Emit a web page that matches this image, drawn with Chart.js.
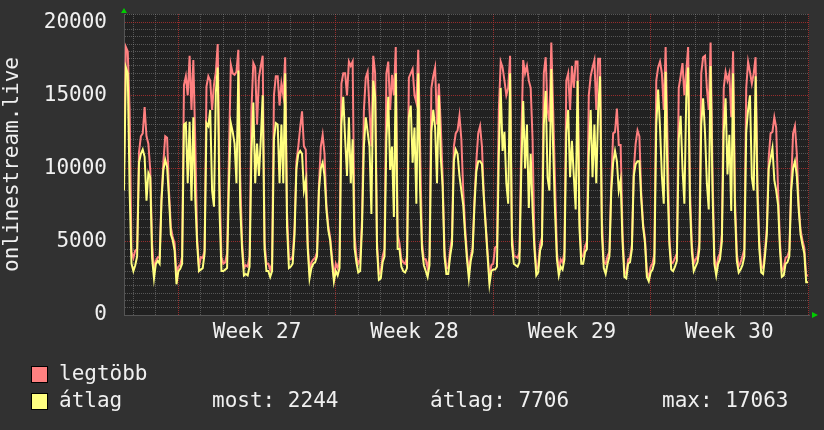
<!DOCTYPE html>
<html>
<head>
<meta charset="utf-8">
<script src="https://cdn.jsdelivr.net/npm/chart.js@4"></script>
<style>
  html, body { margin: 0; padding: 0; background: #313131; }
  #wrap { position: relative; width: 824px; height: 430px; }
  #chart { position: absolute; left: 0; top: 0; }
  .legend { position: absolute; font-family: "DejaVu Sans Mono", monospace; font-size: 21px; line-height: 21px; color: #f0f0f0; white-space: pre; }
  .box { position: absolute; width: 15px; height: 15px; border: 1px solid #000; }
</style>
</head>
<body>
<div id="wrap">
  <canvas id="chart" width="824" height="430"></canvas>
  <div class="box" style="left:31px; top:366px; background:#ff8080;"></div>
  <div class="legend" style="left:59px; top:363px;">legtöbb</div>
  <div class="box" style="left:31px; top:393px; background:#ffff80;"></div>
  <div class="legend" style="left:59px; top:390px;">átlag</div>
  <div class="legend" style="left:212px; top:390px;">most: 2244</div>
  <div class="legend" style="left:430px; top:390px;">átlag: 7706</div>
  <div class="legend" style="left:662px; top:390px;">max: 17063</div>
</div>
<script>
// ==============================
// Data: one value every 2 hours, one row per day (00..22h)
// hour 0 = Monday of week 27
// ==============================
const startHour = -72;   // Friday of week 26
const stepHours = 2;
const weekLabels = ["Week 27", "Week 28", "Week 29", "Week 30"];

// "átlag" (average)
const atlagWk26 = [
  3000, 2800, 2700, 3300, 12000, 14500, 13000, 8500, 16900, 16500, 8500, 3500,
  3000, 3400, 4000, 10400, 11000, 11300, 10800, 7800, 9700, 9400, 3900, 2500,
  3500, 3700, 3500, 7800, 9900, 10600, 10100, 8000, 5500, 5100, 4400, 2100
];
const atlagWk27 = [
  3000, 3150, 3500, 13000, 13100, 9000, 13200, 7800, 13500, 8000, 4900, 3000,
  3100, 3200, 4200, 13100, 12900, 14000, 8500, 7400, 15200, 16900, 7000, 3000,
  3000, 3100, 3200, 9000, 13100, 12500, 11700, 9000, 16700, 7500, 4500, 2700,
  2800, 2700, 3300, 11000, 14500, 9000, 11700, 9500, 12000, 15000, 4500, 3000,
  3000, 2600, 3000, 12000, 13100, 13000, 9000, 13000, 9000, 16500, 6000, 3200,
  3300, 3500, 5500, 10000, 11000, 11200, 11000, 8500, 9200, 4600, 2500, 3200,
  3500, 3600, 4000, 8500, 10000, 10400, 9500, 7200, 5800, 5100, 3600, 2300
];
const atlagWk28 = [
  3000, 2700, 3200, 13000, 14900, 12000, 9500, 13500, 9000, 12000, 4600, 3600,
  2900, 3000, 6000, 11500, 13500, 12500, 11500, 6900, 16000, 14900, 4500, 2400,
  2500, 3600, 4000, 12000, 14900, 9900, 11500, 6700, 16500, 4500, 4500, 3300,
  3000, 2900, 3200, 13500, 14300, 10400, 12800, 7600, 16500, 8500, 4500, 3400,
  3000, 2600, 3400, 12500, 14000, 12800, 9000, 15000, 10800, 8800, 4000, 2800,
  2800, 4000, 4800, 10500, 11300, 11000, 9500, 8500, 7500, 5500, 3800, 2500,
  3700, 4300, 7500, 9800, 10500, 10500, 10300, 8000, 6000, 4000, 2100, 3000
];
const atlagWk29 = [
  3100, 3100, 3300, 11000, 15500, 11200, 12500, 9000, 7600, 16500, 4800, 3500,
  3400, 3300, 3600, 10000, 14600, 10000, 13000, 7300, 11000, 7200, 4500, 2700,
  2900, 4400, 4800, 13000, 15300, 9400, 8500, 16800, 11300, 7000, 3800, 2700,
  3300, 3100, 3800, 12500, 14000, 9400, 11900, 9500, 7200, 16000, 6000, 3500,
  3500, 4300, 4500, 11000, 14000, 9400, 13000, 9000, 14000, 16300, 5500, 3200,
  2800, 3500, 4000, 8500, 10400, 11200, 10500, 8500, 9200, 5000, 2600, 2500,
  3500, 3600, 4500, 9500, 10300, 10500, 10500, 7900, 6000, 4900, 2600, 2300
];
const atlagWk30 = [
  2900, 3100, 3600, 13000, 15400, 12800, 9500, 7600, 16600, 9000, 4800, 3100,
  3000, 3300, 3700, 12000, 13600, 10000, 7600, 14800, 16900, 7500, 4300, 3000,
  3300, 3600, 4500, 13000, 14800, 12500, 9000, 7200, 17000, 8500, 3500, 2700,
  3500, 3800, 5000, 12500, 14800, 9600, 12300, 7100, 16500, 7100, 3700, 2900,
  3100, 3400, 4000, 12500, 14000, 15000, 9400, 8500, 16300, 8000, 4500, 2900,
  2800, 4000, 5500, 10000, 10700, 11400, 9200, 8500, 7500, 4500, 2600, 2700,
  3500, 3600, 4000, 8500, 10000, 10500, 9500, 7200, 5500, 4800, 4200, 2244,
  2244
];

// "legtöbb" (maximum)
const legtobbWk26 = [
  3500, 3200, 3100, 3900, 15000, 17000, 16000, 10000, 18300, 18000, 14000, 4300,
  3900, 4400, 4500, 11100, 12200, 12400, 14200, 12200, 11700, 9900, 4900, 3000,
  3700, 3950, 3900, 8000, 10400, 12200, 12100, 8500, 6000, 5300, 4900, 2800
];
const legtobbWk27 = [
  3300, 3400, 4000, 15700, 16300, 15000, 17700, 14000, 17400, 12000, 5300, 3300,
  3950, 3900, 4400, 15600, 16300, 16000, 14000, 15700, 16600, 18500, 9000, 3950,
  3500, 3600, 4200, 11000, 17100, 16500, 16400, 16600, 18100, 9500, 5000, 3200,
  3400, 3300, 4000, 14000, 17200, 16900, 13000, 16200, 17000, 17700, 5000, 3500,
  3500, 3100, 3500, 15000, 16300, 16300, 14300, 15800, 15000, 17600, 7000, 3800,
  3800, 4000, 6000, 10500, 11500, 12800, 13900, 11500, 11300, 5000, 3000, 3600,
  3800, 3900, 4300, 8800, 11500, 12300, 11000, 7500, 6100, 5300, 4000, 2600
];
const legtobbWk28 = [
  3500, 3200, 3800, 15800, 16500, 16500, 15000, 17300, 17000, 17300, 5500, 4000,
  3500, 3800, 6500, 14000, 16200, 16600, 14000, 11500, 17700, 16500, 5000, 2800,
  2900, 4000, 4500, 16500, 17300, 14000, 16400, 15000, 18300, 5500, 4900, 3800,
  3600, 3500, 4000, 16200, 16500, 16800, 15000, 14500, 18100, 11500, 5000, 3800,
  3800, 3200, 4000, 15500, 16300, 16900, 13000, 15800, 13000, 9500, 4500, 3200,
  3200, 4400, 5300, 11500, 12400, 12600, 13600, 12000, 8500, 6000, 4200, 2900,
  4000, 4600, 7900, 10500, 12400, 12900, 11500, 8200, 6200, 4300, 2500, 3400
];
const legtobbWk29 = [
  3500, 4600, 4700, 14000, 17300, 16900, 16000, 15000, 15500, 17700, 5500, 4000,
  4000, 3900, 4300, 12000, 17400, 16500, 17000, 16000, 15500, 12000, 5000, 3100,
  3300, 4800, 5300, 16500, 17600, 14000, 13200, 18600, 14000, 9000, 4300, 3100,
  3800, 3600, 4300, 16000, 16500, 14000, 17000, 15500, 17300, 17300, 7000, 4000,
  4000, 4700, 5000, 15000, 16300, 16900, 17400, 14000, 17500, 17500, 6500, 3600,
  3500, 4000, 4300, 9000, 12400, 12500, 14100, 11600, 11600, 5600, 3000, 2800,
  3800, 3900, 4800, 9900, 11700, 12600, 12200, 8300, 6200, 5200, 2900, 2600
];
const legtobbWk30 = [
  3300, 3500, 4200, 16000, 16900, 17300, 16500, 14000, 18300, 12000, 5300, 3500,
  3600, 3900, 4200, 15500, 16300, 17200, 15000, 16600, 18300, 8500, 4800, 3500,
  3800, 4000, 5000, 16500, 17600, 17700, 15500, 14000, 18600, 10000, 4000, 3100,
  3900, 4200, 5500, 15500, 16600, 16000, 16500, 13500, 18000, 8000, 4200, 3300,
  3600, 4000, 4500, 15500, 17300, 16600, 15800, 16500, 17600, 9000, 5000, 3300,
  3200, 4400, 6000, 10700, 12400, 12500, 13500, 12800, 8500, 5000, 3000, 3200,
  3900, 4000, 4400, 9000, 12400, 12900, 11000, 7500, 5800, 5100, 4600, 2700,
  2700
];

const atlag = [...atlagWk26, ...atlagWk27, ...atlagWk28, ...atlagWk29, ...atlagWk30];
const legtobb = [...legtobbWk26, ...legtobbWk27, ...legtobbWk28, ...legtobbWk29, ...legtobbWk30];

function toPoints(values) {
  return values.map((v, i) => ({ x: startHour + i * stepHours, y: v }));
}

// ==============================
// Small helpers for the rrdtool look
// ==============================
const GRID_MINOR = "rgba(150,150,150,0.45)";
const GRID_MAJOR = "rgba(190,50,50,0.75)";

const backgroundPlugin = {
  id: "background",
  beforeDraw(chart) {
    const { ctx, chartArea } = chart;
    ctx.save();
    ctx.fillStyle = "#313131";
    ctx.fillRect(0, 0, chart.width, chart.height);
    ctx.fillStyle = "#212121";
    ctx.fillRect(chartArea.left, chartArea.top, chartArea.right - chartArea.left, chartArea.bottom - chartArea.top);
    ctx.restore();
  },
  afterDraw(chart) {
    // green axis arrows
    const { ctx, chartArea } = chart;
    ctx.save();
    ctx.fillStyle = "#00cc00";
    ctx.beginPath();
    ctx.moveTo(chartArea.left - 3, chartArea.top - 1);
    ctx.lineTo(chartArea.left + 3, chartArea.top - 1);
    ctx.lineTo(chartArea.left, chartArea.top - 6);
    ctx.closePath();
    ctx.fill();
    ctx.beginPath();
    ctx.moveTo(chartArea.right + 3, chartArea.bottom - 3);
    ctx.lineTo(chartArea.right + 3, chartArea.bottom + 3);
    ctx.lineTo(chartArea.right + 9, chartArea.bottom);
    ctx.closePath();
    ctx.fill();
    ctx.restore();
  }
};

const font = { family: "'DejaVu Sans Mono', monospace", size: 21 };

new Chart(document.getElementById("chart"), {
  type: "line",
  data: {
    datasets: [
      {
        label: "átlag",
        data: toPoints(atlag),
        borderColor: "#ffff80",
        borderWidth: 2,
        pointRadius: 0,
        tension: 0,
        order: 1
      },
      {
        label: "legtöbb",
        data: toPoints(legtobb),
        borderColor: "#ff8080",
        borderWidth: 2,
        pointRadius: 0,
        tension: 0,
        order: 2
      }
    ]
  },
  options: {
    responsive: false,
    animation: false,
    devicePixelRatio: 1,
    layout: { padding: { top: 14, right: 15, bottom: 80, left: 0 } },
    plugins: { legend: { display: false }, tooltip: { enabled: false } },
    scales: {
      x: {
        type: "linear",
        min: -58,
        max: 673,
        afterBuildTicks: (axis) => {
          const ticks = [];
          for (let h = -48; h <= 672; h += 12) ticks.push({ value: h });
          axis.ticks = ticks;
        },
        afterFit: (axis) => {
          axis.height = 35;
          axis.paddingLeft = 0;
          axis.paddingRight = 0;
        },
        ticks: {
          autoSkip: false,
          maxRotation: 0,
          padding: 5,
          color: "#f0f0f0",
          font: font,
          callback: (value) => {
            if ((value - 84) % 168 === 0) return weekLabels[(value - 84) / 168] || "";
            return "";
          }
        },
        grid: {
          drawTicks: false,
          lineWidth: 1,
          color: (ctx) => {
            const v = ctx.tick ? ctx.tick.value : 0;
            if (v % 168 === 0) return GRID_MAJOR;
            if (v % 24 === 0) return GRID_MINOR;
            return "rgba(0,0,0,0)";
          }
        },
        border: { display: true, color: "#555555", dash: [1, 1] }
      },
      y: {
        min: 0,
        max: 20550,
        afterBuildTicks: (axis) => {
          const ticks = [];
          for (let v = 0; v <= 20500; v += 500) ticks.push({ value: v });
          axis.ticks = ticks;
        },
        afterFit: (axis) => {
          axis.width = 124;
          axis.paddingTop = 0;
          axis.paddingBottom = 0;
        },
        ticks: {
          autoSkip: false,
          padding: 17,
          color: "#f0f0f0",
          font: font,
          callback: (value) => (value % 5000 === 0 ? String(value) : "")
        },
        grid: {
          drawTicks: false,
          lineWidth: 1,
          color: (ctx) => {
            const v = ctx.tick ? ctx.tick.value : 0;
            return v % 5000 === 0 ? GRID_MAJOR : GRID_MINOR;
          }
        },
        border: { display: true, color: "#555555", dash: [1, 1] },
        title: {
          display: true,
          text: "onlinestream.live",
          color: "#f0f0f0",
          font: font,
          padding: { top: 0, bottom: 0 }
        }
      }
    }
  },
  plugins: [backgroundPlugin]
});
</script>
</body>
</html>
